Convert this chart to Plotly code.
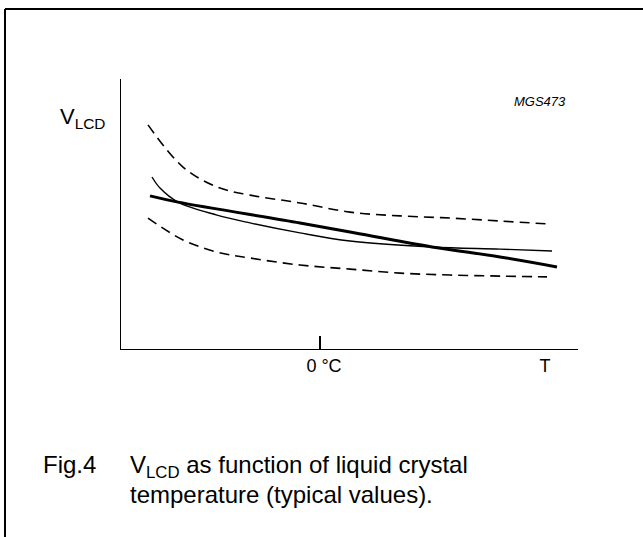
import plotly.graph_objects as go

# Data (x: temperature in arbitrary units, 0 = 0 °C; y: V_LCD arbitrary units)
upper_x = [-68.8, -54.8, -41.2, -28, -8, 12, 32, 52, 72, 91.6]
upper_y = [83.0, 67.4, 60.0, 57.0, 54.1, 50.7, 49.3, 48.5, 47.4, 46.3]

lower_x = [-68.8, -54.8, -41.2, -28, -8, 12, 32, 52, 72, 90.8]
lower_y = [48.5, 40.4, 35.9, 33.7, 31.1, 29.6, 28.1, 27.4, 27.0, 26.7]

thin_x = [-67.2, -64, -56.8, -41.2, -28, -8, 12, 44.8, 72, 92.8]
thin_y = [63.7, 59.6, 54.4, 49.6, 46.7, 43.0, 40.0, 37.8, 37.0, 36.3]

thick_x = [-68, -56.8, -8, 12, 44.8, 72, 94.8]
thick_y = [56.7, 54.4, 46.7, 43.3, 37.8, 34.1, 30.4]

tick_vals = [0, 88.4]
tick_text = ["0 °C", "T"]

FONT = "Liberation Sans, Arial, sans-serif"

fig = go.Figure()
fig.add_trace(go.Scatter(x=upper_x, y=upper_y, mode="lines", line=dict(color="black", width=1.6, dash="10px,6px", shape="spline")))
fig.add_trace(go.Scatter(x=lower_x, y=lower_y, mode="lines", line=dict(color="black", width=1.6, dash="10px,6px", shape="spline")))
fig.add_trace(go.Scatter(x=thin_x, y=thin_y, mode="lines", line=dict(color="black", width=1.4, shape="spline")))
fig.add_trace(go.Scatter(x=thick_x, y=thick_y, mode="lines", line=dict(color="black", width=3, shape="spline")))
# invisible trace on secondary x axis carrying the single tick mark
fig.add_trace(go.Scatter(x=[0], y=[0], xaxis="x2", mode="markers", marker=dict(opacity=0), hoverinfo="skip"))

W, H = 643, 537
L, R, T, B = 121, 578, 79, 349

fig.update_layout(
    width=W, height=H,
    margin=dict(l=L, r=W - R, t=T, b=H - B),
    paper_bgcolor="white", plot_bgcolor="white",
    showlegend=False,
    hovermode=False,
    font=dict(family=FONT, color="black", size=18),
    xaxis=dict(range=[-79.6, 103.2], showgrid=False, zeroline=False,
               showline=True, linecolor="black", linewidth=1.3,
               tickmode="array", tickvals=tick_vals, ticktext=tick_text,
               ticks="", ticklabelshift=4, tickfont=dict(size=18, family=FONT)),
    xaxis2=dict(range=[-79.6, 103.2], overlaying="x", side="bottom",
                showgrid=False, zeroline=False, showline=False,
                tickmode="array", tickvals=[0], ticks="inside", ticklen=13,
                tickwidth=1.3, tickcolor="black", showticklabels=False),
    yaxis=dict(range=[0, 100], showgrid=False, zeroline=False,
               showline=True, linecolor="black", linewidth=1.3,
               showticklabels=False, ticks=""),
)

def px_x(p):
    return (p - L) / (R - L)

def px_y(p):
    return (B - p) / (B - T)

annotations = [
    dict(text="V<sub>LCD</sub>", x=px_x(58), y=px_y(118), xanchor="left", yanchor="middle",
         font=dict(size=22)),
    dict(text="<i>MGS473</i>", x=px_x(568), y=px_y(101), xanchor="right", yanchor="middle",
         font=dict(size=13)),
    dict(text="Fig.4", x=px_x(41), y=px_y(464), xanchor="left", yanchor="middle",
         font=dict(size=24)),
    dict(text="V<sub>LCD</sub> as function of liquid crystal", x=px_x(128), y=px_y(466), xanchor="left", yanchor="middle",
         font=dict(size=24)),
    dict(text="temperature (typical values).", x=px_x(128), y=px_y(494), xanchor="left", yanchor="middle",
         font=dict(size=24)),
]
for a in annotations:
    a.update(xref="paper", yref="paper", showarrow=False, align="left")
fig.update_layout(annotations=annotations)

# outer frame (only the top and left edges fall inside the picture)
fig.add_shape(type="line", xref="paper", yref="paper", x0=px_x(5), x1=px_x(700), y0=px_y(9), y1=px_y(9),
              line=dict(color="black", width=2))
fig.add_shape(type="line", xref="paper", yref="paper", x0=px_x(5), x1=px_x(5), y0=px_y(9), y1=px_y(600),
              line=dict(color="black", width=2))

fig.write_html("out.html",
               config={"displayModeBar": False, "staticPlot": True},
               post_script="document.body.style.margin='0';document.body.style.overflow='hidden';")
